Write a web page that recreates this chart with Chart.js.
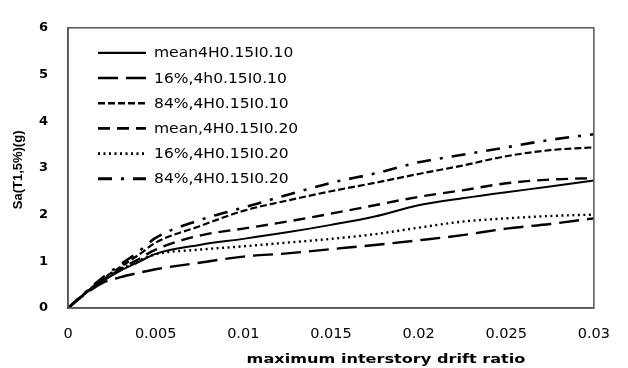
<!DOCTYPE html>
<html>
<head>
<meta charset="utf-8">
<script src="https://cdn.jsdelivr.net/npm/chart.js@4.4.0/dist/chart.umd.min.js"></script>
<style>
  html, body { margin: 0; padding: 0; background: #fff; }
  #wrap { width: 628px; height: 368px; position: relative; }
</style>
</head>
<body>
<div id="wrap"><canvas id="c" width="628" height="368"></canvas></div>
<script>
// ---- data ----
const drift = [0, 0.001, 0.002, 0.003, 0.004, 0.005, 0.0075, 0.01, 0.0125, 0.015, 0.0175, 0.02, 0.0225, 0.025, 0.0275, 0.03];
const seriesNames = ["mean4H0.15I0.10", "16%,4h0.15I0.10", "84%,4H0.15I0.10", "mean,4H0.15I0.20", "16%,4H0.15I0.20", "84%,4H0.15I0.20"];
const mean_I010 = [0, 0.32, 0.58, 0.80, 0.98, 1.16, 1.35, 1.48, 1.62, 1.78, 1.96, 2.20, 2.35, 2.48, 2.60, 2.73];
const p16_I010  = [0, 0.30, 0.54, 0.66, 0.75, 0.83, 0.97, 1.10, 1.17, 1.26, 1.35, 1.45, 1.56, 1.70, 1.80, 1.92];
const p84_I010  = [0, 0.33, 0.63, 0.88, 1.13, 1.40, 1.75, 2.08, 2.30, 2.50, 2.68, 2.87, 3.05, 3.25, 3.38, 3.44];
const mean_I020 = [0, 0.32, 0.60, 0.83, 1.04, 1.25, 1.55, 1.70, 1.85, 2.02, 2.20, 2.38, 2.52, 2.67, 2.75, 2.78];
const p16_I020  = [0, 0.32, 0.60, 0.84, 1.01, 1.15, 1.25, 1.32, 1.40, 1.48, 1.58, 1.72, 1.85, 1.92, 1.97, 2.00];
const p84_I020  = [0, 0.34, 0.66, 0.93, 1.20, 1.50, 1.88, 2.15, 2.42, 2.68, 2.88, 3.12, 3.28, 3.44, 3.60, 3.72];
const xTickLabels = ["0", "0.005", "0.01", "0.015", "0.02", "0.025", "0.03"];
const yTickLabels = ["0", "1", "2", "3", "4", "5", "6"];
const xTitle = "maximum interstory drift ratio";
const yTitle = "Sa(T1,5%)(g)";

const allSeries = [mean_I010, p16_I010, p84_I010, mean_I020, p16_I020, p84_I020];
const dashes = [[], [20, 8], [7, 3], [12, 7], [2, 3.5], [14, 9, 3, 9]];
const widths = [2, 2.4, 2.2, 2.4, 2.4, 2.6];

const datasets = allSeries.map((vals, i) => ({
  label: seriesNames[i],
  data: vals.map((v, j) => ({ x: drift[j], y: v })),
  borderColor: '#000',
  backgroundColor: '#000',
  borderWidth: widths[i],
  borderDash: dashes[i],
  pointRadius: 0,
  fill: false,
  cubicInterpolationMode: 'monotone'
}));

function stretchText(ctx, text, x, y, sx, align) {
  ctx.save();
  ctx.translate(x, y);
  ctx.scale(sx, 1);
  ctx.textAlign = align || 'left';
  ctx.fillText(text, 0, 0);
  ctx.restore();
}

const frame = {
  id: 'frame',
  afterDraw(chart) {
    const { ctx, chartArea: a } = chart;
    ctx.save();
    ctx.strokeStyle = '#555';
    ctx.lineWidth = 1.5;
    ctx.strokeRect(a.left, a.top, a.right - a.left, a.bottom - a.top);
    // legend inside plot
    const ds = chart.data.datasets;
    ctx.font = '13.5px "DejaVu Sans"';
    ctx.fillStyle = '#000';
    ctx.textBaseline = 'middle';
    ds.forEach((d, i) => {
      const y = a.top + 25 + i * 25.2;
      const x0 = a.left + 30, x1 = a.left + 78;
      ctx.beginPath();
      ctx.setLineDash(d.borderDash || []);
      ctx.lineWidth = d.borderWidth + 0.3;
      ctx.strokeStyle = '#000';
      ctx.moveTo(x0, y);
      ctx.lineTo(x1, y);
      ctx.stroke();
      ctx.setLineDash([]);
      stretchText(ctx, d.label, a.left + 86, y + 1, 1.15, 'left');
    });
    // x axis title
    ctx.font = 'bold 13px "DejaVu Sans"';
    ctx.textBaseline = 'middle';
    stretchText(ctx, xTitle, a.left + 318, 360, 1.24, 'center');
    // y axis title
    ctx.save();
    ctx.translate(18, (a.top + a.bottom) / 2 + 2);
    ctx.rotate(-Math.PI / 2);
    ctx.font = 'bold 13px "Liberation Sans Narrow", "Liberation Sans"';
    ctx.textAlign = 'center';
    ctx.textBaseline = 'middle';
    ctx.fillText(yTitle, 0, 0);
    ctx.restore();
    ctx.restore();
  }
};

new Chart(document.getElementById('c'), {
  type: 'line',
  data: { datasets },
  options: {
    responsive: false,
    animation: false,
    events: [],
    layout: { padding: { left: 8, right: 15, top: 15, bottom: 0 } },
    plugins: { legend: { display: false }, tooltip: { enabled: false } },
    scales: {
      x: {
        type: 'linear', min: 0, max: 0.03,
        grid: { display: false, drawTicks: false },
        border: { display: true, color: '#555', width: 1.5 },
        ticks: {
          stepSize: 0.005, padding: 18, color: '#000', maxRotation: 0,
          font: { family: 'DejaVu Sans', size: 14.5 },
          callback: (v) => { const k = Math.round(v / 0.005); return xTickLabels[k] !== undefined ? xTickLabels[k] : ''; }
        },
        title: { display: false },
        afterFit(s) { s.height = 60; }
      },
      y: {
        min: 0, max: 6,
        grid: { display: false, drawTicks: false },
        border: { display: true, color: '#555', width: 1.5 },
        ticks: {
          stepSize: 1, padding: 20, color: '#000',
          font: { family: 'DejaVu Sans', size: 13, weight: 'bold' },
          callback: (v) => yTickLabels[Math.round(v)] || ''
        },
        title: { display: false },
        afterFit(s) { s.width = 60; }
      }
    }
  },
  plugins: [frame]
});
</script>
</body>
</html>
